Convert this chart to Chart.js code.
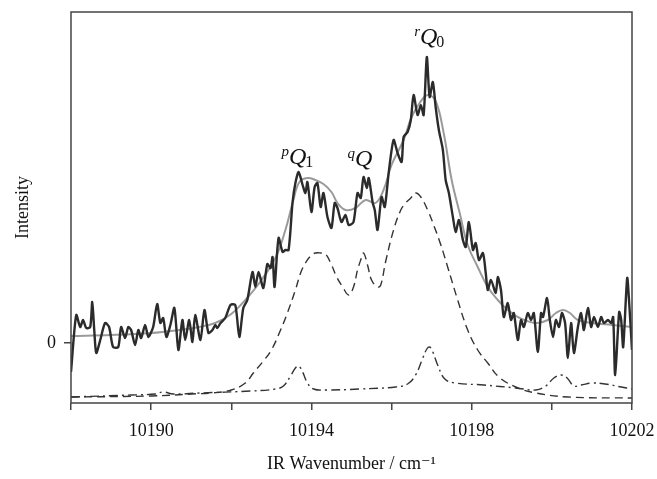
<!DOCTYPE html>
<html>
<head>
<meta charset="utf-8">
<script src="https://cdn.jsdelivr.net/npm/chart.js@4/dist/chart.umd.min.js"></script>
<style>
  html, body { margin: 0; padding: 0; background: #fff; }
  #wrap { width: 657px; height: 479px; }
</style>
</head>
<body>
<div id="wrap"><canvas id="spec"></canvas></div>
<script>
// measured spectrum (noisy trace)
const expX = [10188.00,10188.13,10188.23,10188.30,10188.38,10188.48,10188.53,10188.58,10188.63,10188.73,10188.85,10188.95,10189.05,10189.18,10189.25,10189.35,10189.43,10189.50,10189.60,10189.68,10189.75,10189.85,10189.93,10190.05,10190.15,10190.23,10190.30,10190.38,10190.48,10190.58,10190.68,10190.78,10190.85,10190.95,10191.03,10191.10,10191.23,10191.33,10191.43,10191.53,10191.60,10191.65,10191.73,10191.85,10191.98,10192.10,10192.20,10192.30,10192.40,10192.53,10192.60,10192.68,10192.80,10192.90,10192.98,10193.03,10193.08,10193.18,10193.28,10193.35,10193.43,10193.53,10193.60,10193.68,10193.78,10193.85,10193.90,10194.00,10194.08,10194.15,10194.23,10194.30,10194.40,10194.50,10194.58,10194.65,10194.75,10194.85,10194.93,10195.05,10195.15,10195.23,10195.30,10195.38,10195.43,10195.53,10195.58,10195.65,10195.75,10195.83,10195.93,10196.05,10196.15,10196.25,10196.30,10196.40,10196.48,10196.55,10196.65,10196.73,10196.80,10196.88,10196.95,10197.03,10197.10,10197.18,10197.28,10197.35,10197.43,10197.53,10197.60,10197.68,10197.78,10197.85,10197.93,10198.03,10198.10,10198.18,10198.28,10198.35,10198.40,10198.48,10198.60,10198.65,10198.73,10198.80,10198.90,10198.98,10199.05,10199.15,10199.23,10199.30,10199.40,10199.48,10199.55,10199.65,10199.73,10199.78,10199.88,10199.95,10200.03,10200.10,10200.18,10200.25,10200.33,10200.40,10200.48,10200.55,10200.65,10200.73,10200.80,10200.90,10200.98,10201.05,10201.15,10201.23,10201.30,10201.40,10201.48,10201.53,10201.58,10201.68,10201.73,10201.78,10201.88,10201.93,10202.00];
const expY = [-2.9,2.8,1.6,2.3,1.5,1.6,4.1,1.3,-1.0,0.3,2.0,1.6,-0.4,-0.4,1.6,0.5,1.6,1.3,-0.2,1.3,0.5,1.8,0.6,1.6,3.9,2.0,2.5,0.6,1.8,3.5,-0.7,2.3,0.3,2.3,0.1,2.8,0.3,3.3,1.0,1.3,1.8,1.5,2.0,2.5,3.8,3.8,0.6,3.5,4.3,7.1,5.6,7.1,5.5,7.9,7.5,8.6,5.6,10.5,9.1,9.3,9.3,14.1,16.0,17.1,15.8,15.0,16.1,13.1,15.6,16.0,13.6,15.0,12.6,11.5,14.0,13.5,12.1,12.8,11.8,12.1,15.0,14.5,16.6,15.5,16.5,14.0,13.3,11.3,14.6,13.6,17.1,20.3,19.0,18.1,20.6,21.1,22.3,24.8,22.8,23.8,22.8,28.6,24.6,26.1,23.6,21.3,19.3,16.3,15.0,12.6,11.1,12.3,10.3,9.6,12.1,9.3,10.0,8.3,9.0,7.0,5.3,6.3,5.0,6.6,5.3,2.6,4.0,2.3,3.0,0.3,2.3,1.6,3.0,2.3,3.0,-0.9,3.0,2.6,4.5,2.3,0.6,2.3,1.6,3.0,2.0,-1.5,2.0,-1.0,1.6,3.0,1.3,3.5,1.6,2.6,1.6,2.6,2.0,2.3,2.0,2.6,-3.2,3.1,2.3,-0.4,6.5,4.0,-0.7];

// fitted contour (grey)
const fitX = [10188.0,10189.0,10190.0,10190.7,10191.2,10191.6,10192.0,10192.35,10192.7,10193.1,10193.35,10193.55,10193.7,10193.9,10194.1,10194.3,10194.5,10194.65,10194.85,10195.1,10195.35,10195.6,10195.8,10196.0,10196.3,10196.5,10196.7,10196.9,10197.1,10197.3,10197.5,10197.7,10197.9,10198.15,10198.4,10198.65,10198.9,10199.2,10199.6,10199.9,10200.1,10200.28,10200.45,10200.65,10201.0,10201.5,10202.0];
const fitY = [0.7,0.8,1.0,1.3,1.6,2.0,2.9,4.3,6.0,8.5,11.3,14.3,16.1,16.5,16.3,15.9,15.1,14.0,13.3,13.5,14.3,14.0,15.3,17.8,20.3,22.6,24.0,24.8,24.2,21.0,16.3,13.0,9.8,7.6,5.6,4.3,3.3,2.5,2.0,2.3,3.0,3.3,3.0,2.3,2.0,1.8,1.6];

// simulated band (dashed)
const simX = [10188.0,10190.0,10191.0,10191.5,10192.0,10192.35,10192.55,10192.78,10193.0,10193.23,10193.4,10193.6,10193.73,10193.85,10194.0,10194.1,10194.23,10194.35,10194.48,10194.63,10194.78,10194.93,10195.05,10195.15,10195.23,10195.3,10195.4,10195.5,10195.65,10195.73,10195.85,10196.05,10196.23,10196.35,10196.48,10196.6,10196.73,10196.9,10197.05,10197.23,10197.4,10197.65,10197.9,10198.15,10198.4,10198.68,10199.1,10199.6,10200.4,10202.0];
const simY = [-5.4,-5.3,-5.1,-5.0,-4.7,-4.0,-3.0,-1.9,-0.7,1.3,3.0,5.3,7.0,8.0,8.8,9.0,9.0,8.9,8.0,6.6,5.6,4.8,5.6,7.3,8.3,9.0,7.8,6.3,5.6,5.8,8.1,11.3,13.3,14.0,14.5,15.0,14.6,13.3,11.8,9.8,7.6,4.3,1.3,-0.7,-2.0,-3.4,-4.4,-5.0,-5.4,-5.5];

// hot band component (dash-dot)
const hotX = [10188.0,10189.5,10190.1,10190.3,10190.55,10191.2,10192.5,10193.1,10193.3,10193.48,10193.6,10193.68,10193.78,10193.9,10194.05,10194.4,10195.2,10196.1,10196.4,10196.6,10196.78,10196.88,10196.95,10197.03,10197.15,10197.33,10197.6,10198.3,10199.1,10199.6,10199.85,10200.05,10200.23,10200.38,10200.55,10200.73,10201.0,10201.33,10201.73,10202.0];
const hotY = [-5.4,-5.2,-5.1,-4.9,-5.1,-5.0,-4.8,-4.6,-4.3,-3.3,-2.5,-2.3,-2.9,-4.0,-4.6,-4.7,-4.6,-4.4,-4.1,-3.2,-1.5,-0.6,-0.4,-0.9,-2.2,-3.6,-4.0,-4.2,-4.5,-4.7,-4.3,-3.5,-3.2,-3.5,-4.3,-4.2,-4.0,-4.1,-4.4,-4.6];

const xLabelled = [10190, 10194, 10198, 10202];
const yLabelled = [0];

const pts = (xs, ys) => xs.map((x, i) => ({x: x, y: ys[i]}));

// band labels: superscript, subscript, anchor of the Q in data units
const bandLabels = [
    {sup: 'p', sub: '1', x: 10193.44, y: 17.9},
    {sup: 'q', sub: '',  x: 10195.09, y: 17.7},
    {sup: 'r', sub: '0', x: 10196.71, y: 29.9}
];

const serif = '"Liberation Serif", "DejaVu Serif", serif';

// scales should not push the plot area in
const noPad = s => { s.paddingLeft = s.paddingRight = s.paddingTop = s.paddingBottom = 0; };

const framePlugin = {
    id: 'frame',
    afterDraw(chart) {
        const {ctx, chartArea: a, scales} = chart;
        ctx.save();
        ctx.strokeStyle = '#444';
        ctx.lineWidth = 1.5;
        ctx.strokeRect(a.left, a.top, a.right - a.left, a.bottom - a.top);

        // band labels
        ctx.fillStyle = '#111';
        ctx.textBaseline = 'alphabetic';
        bandLabels.forEach(l => {
            const px = scales.x.getPixelForValue(l.x);
            const py = scales.y.getPixelForValue(l.y);
            ctx.font = 'italic 15px ' + serif;
            ctx.textAlign = 'right';
            ctx.fillText(l.sup, px, py - 8);
            ctx.font = 'italic 24px ' + serif;
            ctx.textAlign = 'left';
            ctx.fillText('Q', px, py);
            const w = ctx.measureText('Q').width;
            if (l.sub) {
                ctx.font = '16px ' + serif;
                ctx.fillText(l.sub, px + w - 1, py + 3);
            }
        });
        ctx.restore();
    }
};

const ctx = document.getElementById('spec').getContext('2d');
new Chart(ctx, {
    type: 'line',
    data: {
        datasets: [
            {
                label: 'Experiment',
                data: pts(expX, expY),
                borderColor: '#2b2b2b',
                borderWidth: 2.4,
                tension: 0.25,
                pointRadius: 0
            },
            {
                label: 'Fit',
                data: pts(fitX, fitY),
                borderColor: '#9a9a9a',
                borderWidth: 2,
                tension: 0.4,
                pointRadius: 0
            },
            {
                label: 'Simulation',
                data: pts(simX, simY),
                borderColor: '#333',
                borderWidth: 1.4,
                borderDash: [8, 5],
                tension: 0.4,
                pointRadius: 0
            },
            {
                label: 'Hot band',
                data: pts(hotX, hotY),
                borderColor: '#333',
                borderWidth: 1.4,
                borderDash: [9, 4, 2, 4],
                tension: 0.4,
                pointRadius: 0
            }
        ]
    },
    options: {
        responsive: true,
        maintainAspectRatio: false,
        animation: false,
        layout: {padding: {left: 0, right: 25, top: 12, bottom: 0}},
        plugins: {
            legend: {display: false},
            tooltip: {enabled: false}
        },
        scales: {
            x: {
                type: 'linear',
                min: 10188,
                max: 10202,
                border: {display: false},
                grid: {drawOnChartArea: false, drawTicks: true, tickLength: 7, color: '#444', lineWidth: 1.5},
                ticks: {
                    stepSize: 2,
                    autoSkip: false,
                    maxRotation: 0,
                    padding: 10,
                    color: '#111',
                    font: {family: serif, size: 18},
                    callback: v => xLabelled.includes(v) ? String(v) : ''
                },
                title: {
                    display: true,
                    text: 'IR Wavenumber / cm⁻¹',
                    color: '#111',
                    font: {family: serif, size: 18},
                    padding: {top: 0, bottom: 4}
                },
                afterFit: s => { s.height = 76; noPad(s); }
            },
            y: {
                type: 'linear',
                min: -6,
                max: 33.1,
                border: {display: false},
                grid: {drawOnChartArea: false, drawTicks: true, tickLength: 7, color: '#444', lineWidth: 1.5},
                afterBuildTicks: s => { s.ticks = yLabelled.map(v => ({value: v})); },
                ticks: {
                    padding: 8,
                    color: '#111',
                    font: {family: serif, size: 18}
                },
                title: {
                    display: true,
                    text: 'Intensity',
                    color: '#111',
                    font: {family: serif, size: 18},
                    padding: {top: 12, bottom: 0}
                },
                afterFit: s => { s.width = 71; noPad(s); }
            }
        }
    },
    plugins: [framePlugin]
});
</script>
</body>
</html>
